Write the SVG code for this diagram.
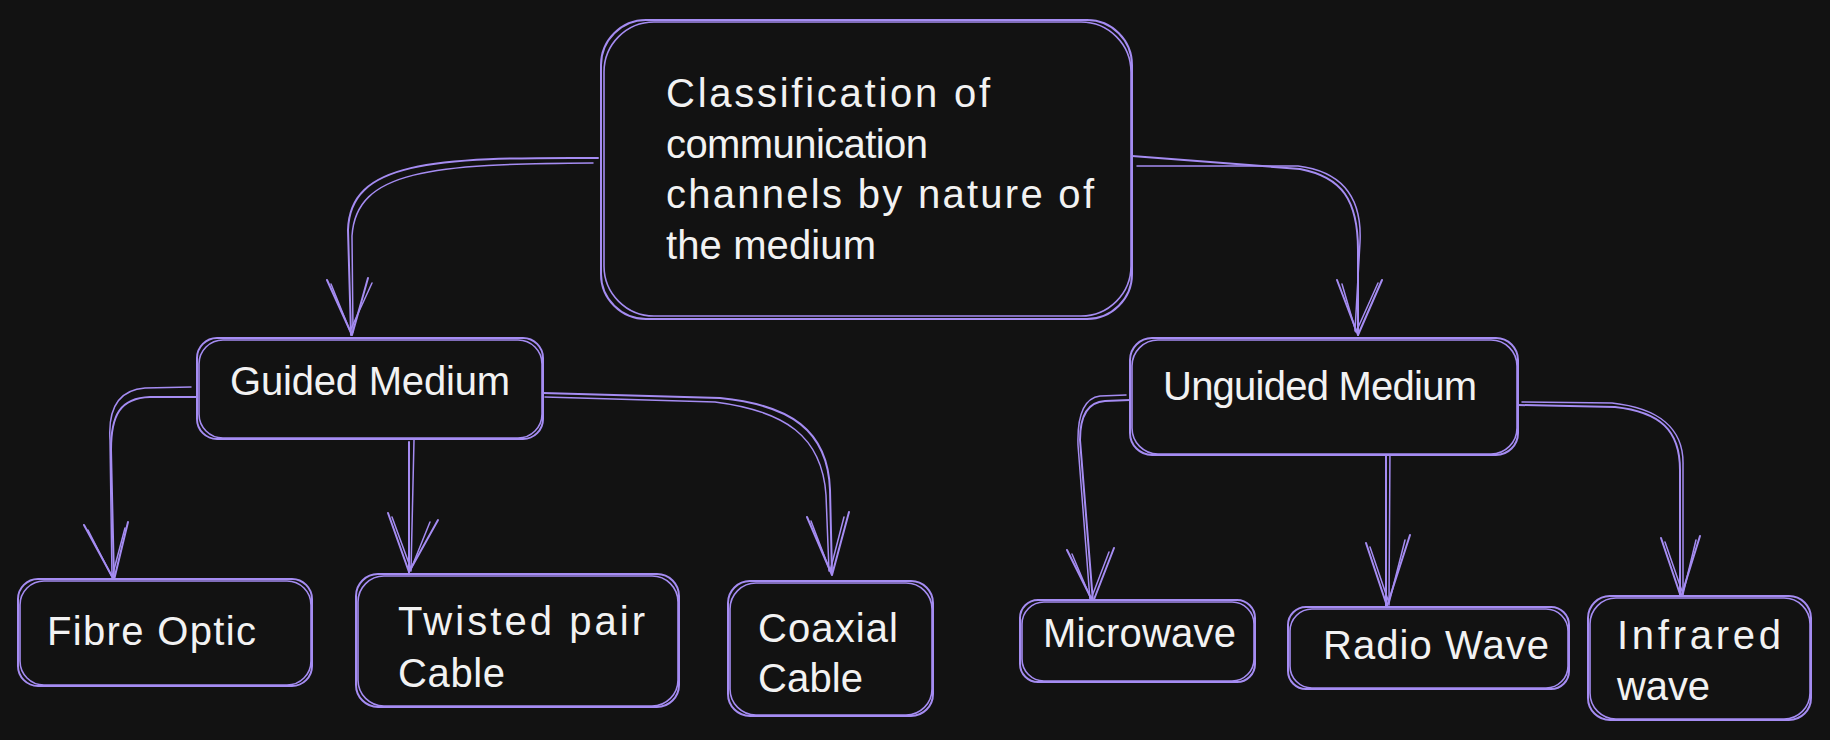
<svg xmlns="http://www.w3.org/2000/svg" width="1830" height="740" viewBox="0 0 1830 740">
<style>
.bg{fill:#121212}
.box{fill:#121212;stroke:#a58cf2;stroke-width:2}
.sk{fill:none;stroke:#a58cf2;stroke-width:1.6}
.ln{fill:none;stroke:#a58cf2;stroke-width:2;stroke-linecap:round;stroke-linejoin:round}
.ln2{fill:none;stroke:#a58cf2;stroke-width:1.5;stroke-linecap:round;stroke-linejoin:round}
.t{fill:#f2f2f2;font-family:"Liberation Sans",Arial,sans-serif;font-size:40px}
</style>
<rect class="bg" x="0" y="0" width="1830" height="740"/>

<g id="connectors">
  <!-- root -> guided -->
  <path class="ln" d="M598,158 C430,157 350,162 348,230 L351,335"/>
  <path class="ln2" d="M593,163 C432,164 356,170 352,236 L353,332"/>
  <path class="ln" d="M327,280 L352,335 L368,278"/>
  <path class="ln2" d="M331,284 L350,331 L372,283"/>
  <!-- root -> unguided -->
  <path class="ln" d="M1132,156 L1300,169 C1342,177 1358,200 1358,250 L1358,335"/>
  <path class="ln2" d="M1137,166 L1298,166 C1346,172 1362,202 1360,242 L1355,331"/>
  <path class="ln" d="M1337,280 L1358,335 L1382,280"/>
  <path class="ln2" d="M1342,284 L1356,332 L1378,283"/>
  <!-- guided -> fibre -->
  <path class="ln" d="M197,397 L150,397 C120,398 111,415 111,450 L114,580"/>
  <path class="ln2" d="M191,387 L145,388 C118,390 108,410 110,440 L112,577"/>
  <path class="ln" d="M84,525 L114,580 L128,522"/>
  <path class="ln2" d="M88,530 L112,577 L125,528"/>
  <!-- guided -> twisted -->
  <path class="ln" d="M409,442 L409,574"/>
  <path class="ln2" d="M414,440 L411,571"/>
  <path class="ln" d="M388,513 L409,572 L438,520"/>
  <path class="ln2" d="M392,517 L411,569 L430,522"/>
  <!-- guided -> coaxial -->
  <path class="ln" d="M543,393 L720,398 C790,405 828,430 830,490 L832,574"/>
  <path class="ln2" d="M545,397 L715,402 C785,411 822,436 826,495 L829,571"/>
  <path class="ln" d="M807,517 L832,575 L849,512"/>
  <path class="ln2" d="M811,521 L830,571 L844,517"/>
  <!-- unguided -> microwave -->
  <path class="ln" d="M1130,400 L1105,401 C1088,402 1080,415 1080,440 L1093,602"/>
  <path class="ln2" d="M1126,395 L1100,396 C1085,398 1077,412 1078,445 L1090,600"/>
  <path class="ln" d="M1067,550 L1093,602 L1114,548"/>
  <path class="ln2" d="M1072,554 L1091,599 L1109,552"/>
  <!-- unguided -> radio -->
  <path class="ln" d="M1386,448 L1386,607"/>
  <path class="ln2" d="M1390,446 L1389,605"/>
  <path class="ln" d="M1366,543 L1387,606 L1410,535"/>
  <path class="ln2" d="M1370,547 L1389,603 L1405,540"/>
  <!-- unguided -> infrared -->
  <path class="ln" d="M1518,405 L1615,407 C1660,412 1680,430 1680,470 L1680,597"/>
  <path class="ln2" d="M1522,402 L1612,403 C1658,408 1684,428 1683,465 L1683,595"/>
  <path class="ln" d="M1661,538 L1681,597 L1700,536"/>
  <path class="ln2" d="M1665,542 L1683,594 L1696,540"/>
</g>

<g id="root">
  <rect class="box" x="601" y="20" width="531" height="299" rx="45"/>
  <rect class="sk" x="604" y="22" width="527" height="294" rx="50"/>
  <text class="t" x="666" y="107" textLength="324" lengthAdjust="spacing">Classification of</text>
  <text class="t" x="666" y="158" textLength="262" lengthAdjust="spacing">communication</text>
  <text class="t" x="666" y="208" textLength="428" lengthAdjust="spacing">channels by nature of</text>
  <text class="t" x="666" y="259" textLength="210" lengthAdjust="spacing">the medium</text>
</g>

<g id="guided">
  <rect class="box" x="197" y="338" width="346" height="101" rx="20"/>
  <rect class="sk" x="199" y="340" width="343" height="98" rx="24"/>
  <text class="t" x="230" y="395" textLength="280" lengthAdjust="spacing">Guided Medium</text>
</g>

<g id="unguided">
  <rect class="box" x="1130" y="338" width="388" height="117" rx="22"/>
  <rect class="sk" x="1132" y="340" width="385" height="114" rx="26"/>
  <text class="t" x="1163" y="400" textLength="314" lengthAdjust="spacing">Unguided Medium</text>
</g>

<g id="fibre">
  <rect class="box" x="18" y="579" width="294" height="107" rx="20"/>
  <rect class="sk" x="20" y="581" width="291" height="104" rx="24"/>
  <text class="t" x="47" y="645" textLength="209" lengthAdjust="spacing">Fibre Optic</text>
</g>

<g id="twisted">
  <rect class="box" x="356" y="574" width="323" height="133" rx="22"/>
  <rect class="sk" x="358" y="576" width="320" height="130" rx="26"/>
  <text class="t" x="398" y="635" textLength="247" lengthAdjust="spacing">Twisted pair</text>
  <text class="t" x="398" y="687" textLength="107" lengthAdjust="spacing">Cable</text>
</g>

<g id="coaxial">
  <rect class="box" x="728" y="581" width="205" height="135" rx="22"/>
  <rect class="sk" x="730" y="583" width="202" height="132" rx="26"/>
  <text class="t" x="758" y="642" textLength="140" lengthAdjust="spacing">Coaxial</text>
  <text class="t" x="758" y="692" textLength="105" lengthAdjust="spacing">Cable</text>
</g>

<g id="microwave">
  <rect class="box" x="1020" y="600" width="235" height="82" rx="18"/>
  <rect class="sk" x="1022" y="602" width="232" height="79" rx="22"/>
  <text class="t" x="1043" y="647" textLength="193" lengthAdjust="spacing">Microwave</text>
</g>

<g id="radio">
  <rect class="box" x="1288" y="607" width="281" height="82" rx="18"/>
  <rect class="sk" x="1290" y="609" width="278" height="79" rx="22"/>
  <text class="t" x="1323" y="659" textLength="226" lengthAdjust="spacing">Radio Wave</text>
</g>

<g id="infrared">
  <rect class="box" x="1588" y="596" width="223" height="124" rx="22"/>
  <rect class="sk" x="1590" y="598" width="220" height="121" rx="26"/>
  <text class="t" x="1617" y="649" textLength="164" lengthAdjust="spacing">Infrared</text>
  <text class="t" x="1617" y="700" textLength="93" lengthAdjust="spacing">wave</text>
</g>
</svg>
